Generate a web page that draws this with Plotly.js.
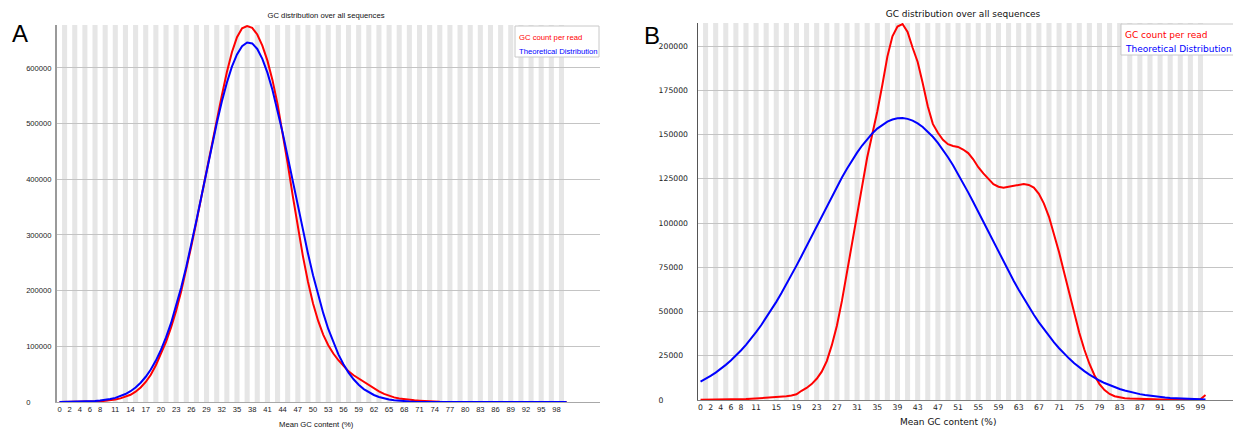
<!DOCTYPE html>
<html>
<head>
<meta charset="utf-8">
<script src="https://cdn.plot.ly/plotly-3.0.1.min.js"></script>
<style>
  html, body { margin: 0; padding: 0; background: #ffffff; width: 1233px; height: 430px; overflow: hidden; }
  #panelA { position: absolute; left: 0; top: 0; width: 616px; height: 430px; }
  #panelB { position: absolute; left: 616px; top: 0; width: 617px; height: 430px; }
</style>
</head>
<body>
<div id="panelA"></div>
<div id="panelB"></div>
<script>
// ---------- DATA ----------
const categories = [0,1,2,3,4,5,6,7,8,9,10,11,12,13,14,15,16,17,18,19,20,21,22,23,24,25,26,27,28,29,30,31,32,33,34,35,36,37,38,39,40,41,42,43,44,45,46,47,48,49,50,51,52,53,54,55,56,57,58,59,60,61,62,63,64,65,66,67,68,69,70,71,72,73,74,75,76,77,78,79,80,81,82,83,84,85,86,87,88,89,90,91,92,93,94,95,96,97,98,99,100];

const seriesNames = ["GC count per read", "Theoretical Distribution"];

// Panel A
const gcCountA = [0,0,0,0,0,100,300,700,1300,2100,3000,4500,6500,9200,13000,18500,26000,36000,49000,66000,86000,108000,134000,164000,199000,238000,280000,324000,370000,416000,462000,507000,550000,592000,628000,655000,671000,675000,672000,660000,640000,613000,578000,535000,484000,428000,370000,314000,262000,216000,177000,146000,121000,102000,87000,75000,64000,55000,48000,42000,36000,30000,24000,19000,14500,11000,8300,6300,4800,3800,3000,2300,1600,1000,500,300,200,120,80,50,30,20,20,20,20,20,20,20,20,20,20,20,20,20,20,20,20,20,20,20,20];
const theoA = [80,130,210,330,500,770,1160,1720,2530,3670,5260,7450,10400,14300,19400,26100,34600,45300,58300,74400,93600,116000,142000,172000,206000,243000,283200,325800,369800,414400,458200,500200,539000,573300,602100,624300,639000,645600,643900,634000,616300,591400,560200,523900,483700,440700,396200,351600,308100,266800,227500,192200,160000,131100,106900,85600,67700,52800,40800,30900,23200,17200,12600,9100,6500,4580,3190,2180,1470,980,650,420,270,170,110,70,40,25,15,10,5,5,5,5,5,5,5,5,5,5,5,5,5,5,5,5,5,5,5,5,5];
const xTickValsA = [0,2,4,6,8,11,14,17,20,23,26,29,32,35,38,41,44,47,50,53,56,59,62,65,68,71,74,77,80,83,86,89,92,95,98];
const yTickValsA = [0,100000,200000,300000,400000,500000,600000];

// Panel B
const gcCountB = [200,200,200,200,200,220,250,300,400,500,650,800,1000,1200,1400,1600,1800,2100,2500,3200,5200,6800,9000,12000,16000,22000,31000,42000,56000,72000,89000,106000,122000,137000,150000,163000,178000,194000,205500,211000,212400,208000,199000,191000,179000,166000,156000,151000,147000,144500,143500,143000,141500,139500,136000,131500,128000,125000,122000,120500,120000,120500,121000,121500,122000,121500,120000,116500,111000,103500,94000,83500,72000,60500,49000,38000,28500,20500,14000,9000,5600,3400,2100,1400,1000,800,650,550,480,420,380,350,330,310,300,290,280,280,300,400,2800];
const theoB = [10420,11930,13620,15500,17570,19850,22330,25040,27990,31190,34630,38310,42250,46400,50800,55440,60280,65310,70540,75910,81400,86990,92650,98340,103990,109610,115140,120510,125700,130670,135370,139740,143770,147400,150590,153330,155570,157310,158500,159170,159280,158840,157850,156320,154280,151740,148720,145270,141400,137160,132590,127730,122610,117310,111830,106250,100600,94910,89240,83620,78090,72670,67380,62270,57350,52630,48140,43870,39860,36070,32540,29250,26200,23390,20800,18450,16300,14350,12590,11010,9590,8330,7210,6210,5340,4570,3900,3320,2810,2380,2000,1680,1400,1170,970,800,660,540,445,365,295];
const xTickValsB = [0,2,4,6,8,11,15,19,23,27,31,35,39,43,47,51,55,59,63,67,71,75,79,83,87,91,95,99];
const yTickValsB = [0,25000,50000,75000,100000,125000,150000,175000,200000];

const chartTitle = "GC distribution over all sequences";
const xAxisTitle = "Mean GC content (%)";
const panelLabels = ["A", "B"];

// ---------- HELPERS ----------
const FIG = "\u2007"; // figure space, same width as a digit -> left aligned labels
function padLabel(v, n) { let s = String(v); while (s.length < n) s += FIG; return s; }

function stripes() {
  const out = [];
  categories.forEach(c => {
    if (c % 2 === 1) {
      out.push({type: 'rect', xref: 'x', yref: 'paper', x0: c - 0.5, x1: c + 0.5, y0: 0, y1: 1,
        fillcolor: '#e6e6e6', line: {width: 0}, layer: 'below'});
    }
  });
  return out;
}

function makePanel(div, o) {
  const traces = [
    {x: categories, y: o.red, name: seriesNames[0], type: 'scatter', mode: 'lines',
     line: {color: '#ff0000', width: 2}, hoverinfo: 'skip', showlegend: false},
    {x: categories, y: o.blue, name: seriesNames[1], type: 'scatter', mode: 'lines',
     line: {color: '#0000ff', width: 2}, hoverinfo: 'skip', showlegend: false}
  ];
  const shapes = stripes();
  shapes.push({type: 'rect', xref: 'paper', yref: 'paper', x0: o.leg.x0, x1: o.leg.x1, y0: o.leg.y0, y1: o.leg.y1,
    fillcolor: '#ffffff', line: {color: '#c8c8c8', width: 1}, layer: 'above'});
  const layout = {
    width: o.w, height: 430,
    margin: o.margin,
    paper_bgcolor: '#ffffff', plot_bgcolor: '#ffffff',
    showlegend: false,
    title: {text: chartTitle, font: {family: o.font, size: o.titleSize, color: '#111'},
            xref: 'container', x: o.titleX, xanchor: 'center', yref: 'container', y: o.titleY, yanchor: 'middle'},
    xaxis: {range: o.xrange, tickmode: 'array', tickvals: o.xticks, ticktext: o.xticks.map(String),
            tickfont: {family: o.font, size: o.tickSize, color: '#222'}, showgrid: false, zeroline: false,
            showline: true, linecolor: o.xline, linewidth: 1, ticks: '', fixedrange: true, tickangle: 0},
    yaxis: {range: o.yrange, tickmode: 'array', tickvals: o.yticks, ticktext: o.yticks.map(v => padLabel(v, 6)),
            tickfont: {family: o.font, size: o.tickSize, color: '#222'}, showgrid: true, gridcolor: '#c4c4c4', gridwidth: 1,
            zeroline: false, showline: true, linecolor: o.yline, linewidth: o.ylineW, ticks: '',
            ticklabelstandoff: o.standoff, fixedrange: true},
    shapes: shapes,
    annotations: [
      {text: o.label, xref: 'paper', yref: 'paper', x: o.labelX, y: o.labelY, xanchor: 'left', yanchor: 'middle',
       showarrow: false, font: {family: 'Liberation Sans', size: 24, color: '#000'}},
      {text: xAxisTitle, xref: 'paper', yref: 'paper', x: o.xtX, y: o.xtY, xanchor: 'center', yanchor: 'middle',
       showarrow: false, font: {family: o.font, size: o.titleSize, color: '#111'}},
      {text: seriesNames[0], xref: 'paper', yref: 'paper', x: o.legTextX, y: o.legY1, xanchor: 'left', yanchor: 'middle',
       showarrow: false, font: {family: o.font, size: o.legSize, color: '#ff0000'}},
      {text: seriesNames[1], xref: 'paper', yref: 'paper', x: o.legTextX, y: o.legY2, xanchor: 'left', yanchor: 'middle',
       showarrow: false, font: {family: o.font, size: o.legSize, color: '#0000ff'}}
    ]
  };
  Plotly.newPlot(div, traces, layout, {staticPlot: true, displayModeBar: false});
}

// Panel A: plot area x 57..600, y 25..402
makePanel('panelA', {
  w: 616, margin: {l: 57, r: 16, t: 25, b: 28, pad: 0},
  red: gcCountA, blue: theoA, xticks: xTickValsA, yticks: yTickValsA,
  xrange: [-0.5, 106.6], yrange: [0, 677000],
  font: 'Liberation Sans', titleSize: 7.7, tickSize: 7.6, legSize: 7.7,
  titleX: 326 / 616, titleY: 1 - 15 / 430,
  xline: '#a8a8a8', yline: '#9a9a9a', ylineW: 2, standoff: 2,
  label: panelLabels[0], labelX: (10 - 57) / 543, labelY: 1 - (34 - 25) / 377,
  xtX: (316 - 57) / 543, xtY: -(424 - 402) / 377,
  leg: {x0: (515 - 57) / 543, x1: (599 - 57) / 543, y0: 1 - (57 - 25) / 377, y1: 1 - (26 - 25) / 377},
  legTextX: (517 - 57) / 543, legY1: 1 - (37.5 - 25) / 377, legY2: 1 - (51.5 - 25) / 377
});

// Panel B: plot area x 698..1233, y 23..400
makePanel('panelB', {
  w: 617, margin: {l: 82, r: 0, t: 23, b: 30, pad: 0},
  red: gcCountB, blue: theoB, xticks: xTickValsB, yticks: yTickValsB,
  xrange: [-0.5, 105.44], yrange: [0, 213000],
  font: 'DejaVu Sans', titleSize: 9, tickSize: 7.7, legSize: 9,
  titleX: (963 - 616) / 617, titleY: 1 - 14 / 430,
  xline: '#808080', yline: '#555555', ylineW: 1.5, standoff: 7,
  label: panelLabels[1], labelX: (642 - 698) / 535, labelY: 1 - (35 - 23) / 377,
  xtX: (948 - 698) / 535, xtY: -(422 - 400) / 377,
  leg: {x0: (1121 - 698) / 535, x1: 1.02, y0: 1 - (55 - 23) / 377, y1: 1 - (24 - 23) / 377},
  legTextX: (1123 - 698) / 535, legY1: 1 - (35 - 23) / 377, legY2: 1 - (49 - 23) / 377
});
</script>
</body>
</html>
